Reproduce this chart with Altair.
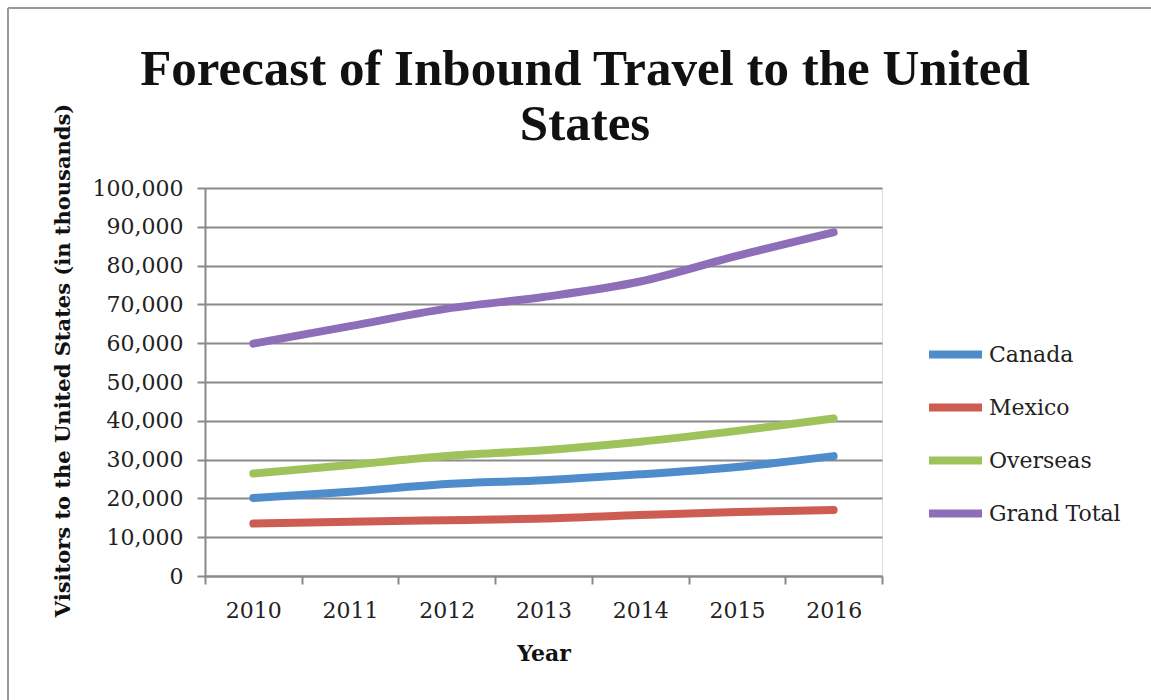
import altair as alt
import pandas as pd

years = ["2010", "2011", "2012", "2013", "2014", "2015", "2016"]
canada = [20100, 21700, 23700, 24700, 26200, 28100, 30900]
mexico = [13500, 14000, 14400, 14800, 15700, 16500, 17000]
overseas = [26400, 28600, 30900, 32400, 34600, 37400, 40600]
grand_total = [59900, 64400, 68900, 71900, 75900, 82500, 88600]

series_names = ["Canada", "Mexico", "Overseas", "Grand Total"]
series_colors = ["#4F8CCB", "#CD5C52", "#9DC35A", "#8E6DB9"]
y_ticks = list(range(0, 100001, 10000))
title_lines = ["Forecast of Inbound Travel to the United", "States"]

rows = []
for name, vals in zip(series_names, [canada, mexico, overseas, grand_total]):
    for yr, v in zip(years, vals):
        rows.append({"Year": yr, "Series": name, "Value": v})
df = pd.DataFrame(rows)

serif = "DejaVu Serif"

lines = alt.Chart(df).mark_line(strokeWidth=8, interpolate="monotone", strokeCap="round").encode(
    x=alt.X("Year:O", bandPosition=0.5,
            scale=alt.Scale(type="band", domain=years, paddingInner=0, paddingOuter=0),
            axis=alt.Axis(title="Year", labelAngle=0, tickBand="extent", grid=False,
                          domainColor="#8a8a8a", domainWidth=2, tickColor="#8a8a8a",
                          tickWidth=2, tickSize=8, labelPadding=16,
                          labelFont=serif, labelFontSize=22, labelColor="#222222",
                          titleFont=serif, titleFontSize=22, titleFontWeight="bold",
                          titleColor="#111111", titlePadding=22)),
    y=alt.Y("Value:Q",
            scale=alt.Scale(domain=[0, 100000], nice=False),
            axis=alt.Axis(title="Visitors to the United States (in thousands)",
                          values=y_ticks, format=",.0f", grid=True, gridColor="#8a8a8a",
                          gridWidth=2, domainColor="#8a8a8a", domainWidth=2,
                          tickColor="#8a8a8a", tickWidth=2, tickSize=8, labelPadding=14,
                          labelFont=serif, labelFontSize=22, labelColor="#222222",
                          titleFont=serif, titleFontSize=21, titleFontWeight="bold",
                          titleColor="#111111", titleAngle=270, titleX=-142, titleY=172,
                          titleAlign="center", titleBaseline="middle")),
    color=alt.Color("Series:N",
                    scale=alt.Scale(domain=series_names, range=series_colors),
                    legend=alt.Legend(title=None, orient="none", legendX=720, legendY=136,
                                      symbolType="stroke", symbolSize=2809,
                                      symbolStrokeWidth=8, labelFont=serif,
                                      labelFontSize=22, labelColor="#222222",
                                      labelOffset=3, rowPadding=6)),
)

frame_df = pd.DataFrame({"k": [0]})
left_border = alt.Chart(frame_df).mark_rule(color="#9a9a9a", strokeWidth=2).encode(
    x=alt.value(-197), y=alt.value(-180), y2=alt.value(512)
)
top_border = alt.Chart(frame_df).mark_rule(color="#9a9a9a", strokeWidth=2).encode(
    x=alt.value(-197), x2=alt.value(946), y=alt.value(-180)
)
title_text = alt.Chart(frame_df).mark_text(
    text=title_lines, font="Liberation Serif", fontSize=51, fontWeight="bold",
    color="#111111", lineHeight=55, align="center", baseline="alphabetic",
).encode(x=alt.value(380), y=alt.value(-103))

chart = alt.layer(left_border, top_border, title_text, lines).properties(
    width=677,
    height=388,
    autosize=alt.AutoSizeParams(type="none"),
    padding={"left": 205, "top": 188, "right": 269, "bottom": 124},
).configure_view(stroke="transparent").configure(background="white")

chart.save("out.html", embed_options={"renderer": "svg", "actions": False})
